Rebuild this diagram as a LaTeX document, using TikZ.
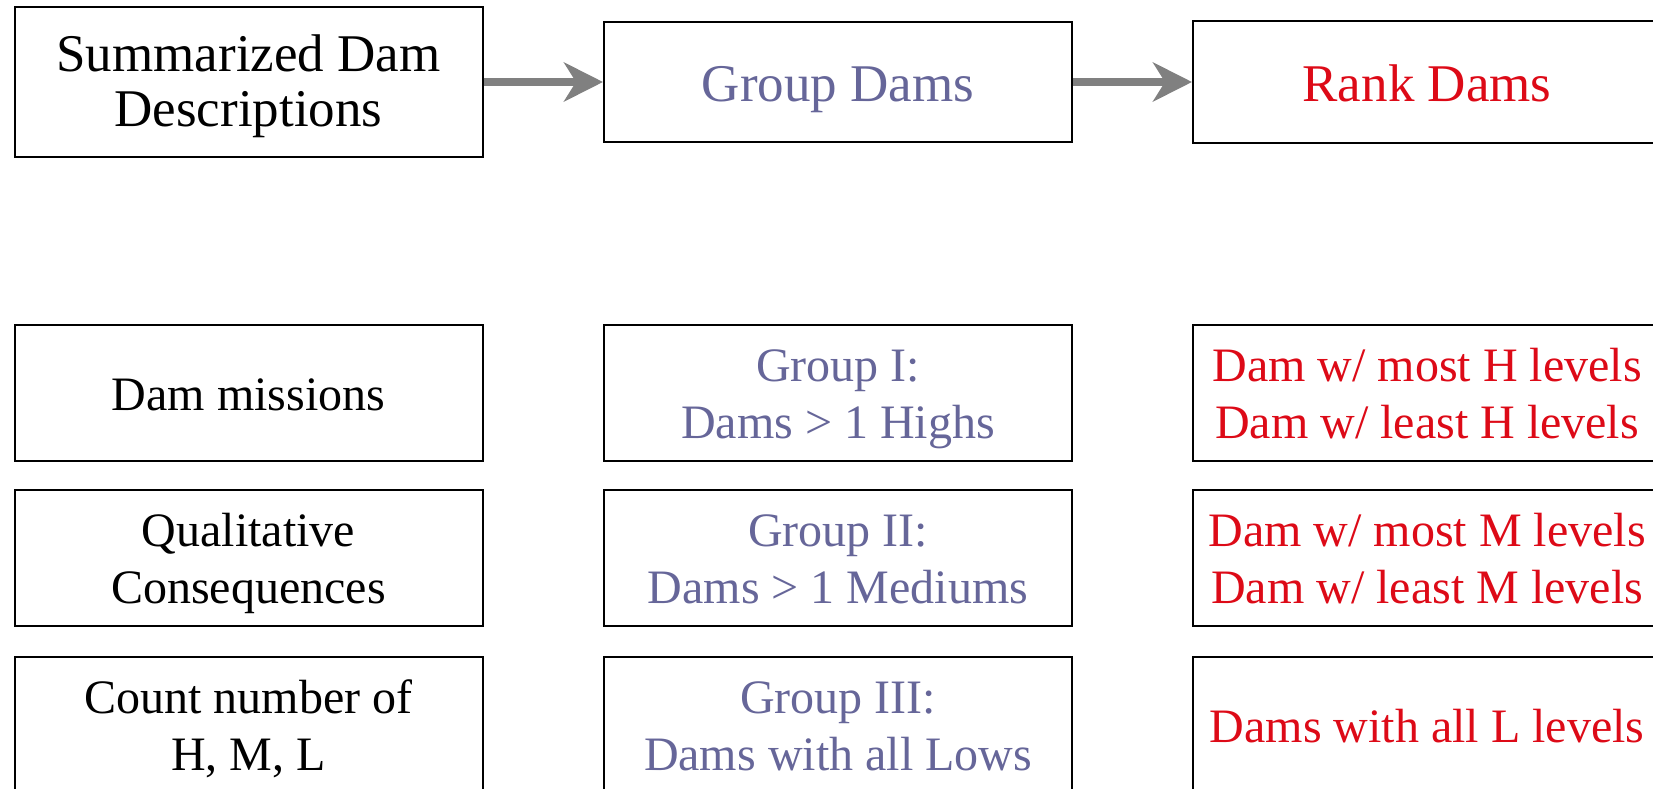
\documentclass[tikz,border=0pt]{standalone}
\usepackage{fontspec}
\setmainfont{Liberation Serif}
\usetikzlibrary{arrows.meta}
\definecolor{grpblue}{HTML}{666699}
\definecolor{rankred}{HTML}{DD0A17}
\definecolor{flowgray}{HTML}{808080}
\begin{document}
\begin{tikzpicture}[x=1pt,y=-1pt,
  box/.style={draw=black, line width=2pt, fill=white,
    inner sep=0pt, minimum width=468pt},
  headtxt/.style={anchor=base, inner sep=0pt, font=\fontsize{53}{55}\selectfont},
  rowtxt/.style={anchor=base, inner sep=0pt, font=\fontsize{48}{57}\selectfont},
  grptext/.style={text=grpblue},
  ranktext/.style={text=rankred},
  flow/.style={draw=flowgray, line width=7.5pt,
    -{Stealth[length=39pt, width=39pt, inset=12pt]}}]
\useasboundingbox (0,0) rectangle (1653,789);

% header boxes
\node[box, minimum height=150pt] (sum) at (248.5,82) {};
\node[box, minimum height=120pt] (grp) at (838,82) {};
\node[box, minimum height=121pt] (rank) at (1427,82) {};

\node[headtxt] (sum1) at ([yshift=10.3pt]sum.center) {Summarized Dam};
\node[headtxt] (sum2) at ([yshift=-44.7pt]sum.center) {Descriptions};
\node[headtxt, grptext] (grpt) at ([yshift=-19.7pt]grp.center) {Group Dams};
\node[headtxt, ranktext] (rankt) at ([yshift=-19.7pt]rank.center) {Rank Dams};

\draw[flow] (sum.east) -- (grp.west);
\draw[flow] (grp.east) -- (rank.west);

% row boxes
\foreach \nm/\cx/\cy in {mis/248.5/393, g1/838/393, r1/1427/393,
                         qual/248.5/558, g2/838/558, r2/1427/558,
                         cnt/248.5/725, g3/838/725, r3/1427/725}
  \node[box, minimum height=136pt] (\nm) at (\cx,\cy) {};

% first row
\node[rowtxt] (mist) at ([yshift=-17.7pt]mis.center) {Dam missions};
\node[rowtxt, grptext] (g1a) at ([yshift=12pt]g1.center) {Group I:};
\node[rowtxt, grptext] (g1b) at ([yshift=-45pt]g1.center) {Dams > 1 Highs};
\node[rowtxt, ranktext] (r1a) at ([yshift=12pt]r1.center) {Dam w/ most H levels};
\node[rowtxt, ranktext] (r1b) at ([yshift=-45pt]r1.center) {Dam w/ least H levels};

% second row
\node[rowtxt] (qua) at ([yshift=12pt]qual.center) {Qualitative};
\node[rowtxt] (qub) at ([yshift=-45pt]qual.center) {Consequences};
\node[rowtxt, grptext] (g2a) at ([yshift=12pt]g2.center) {Group II:};
\node[rowtxt, grptext] (g2b) at ([yshift=-45pt]g2.center) {Dams > 1 Mediums};
\node[rowtxt, ranktext] (r2a) at ([yshift=12pt]r2.center) {Dam w/ most M levels};
\node[rowtxt, ranktext] (r2b) at ([yshift=-45pt]r2.center) {Dam w/ least M levels};

% third row
\node[rowtxt] (cnta) at ([yshift=12pt]cnt.center) {Count number of};
\node[rowtxt] (cntb) at ([yshift=-45pt]cnt.center) {H, M, L};
\node[rowtxt, grptext] (g3a) at ([yshift=12pt]g3.center) {Group III:};
\node[rowtxt, grptext] (g3b) at ([yshift=-45pt]g3.center) {Dams with all Lows};
\node[rowtxt, ranktext] (r3t) at ([yshift=-17.7pt]r3.center) {Dams with all L levels};
\end{tikzpicture}
\end{document}
